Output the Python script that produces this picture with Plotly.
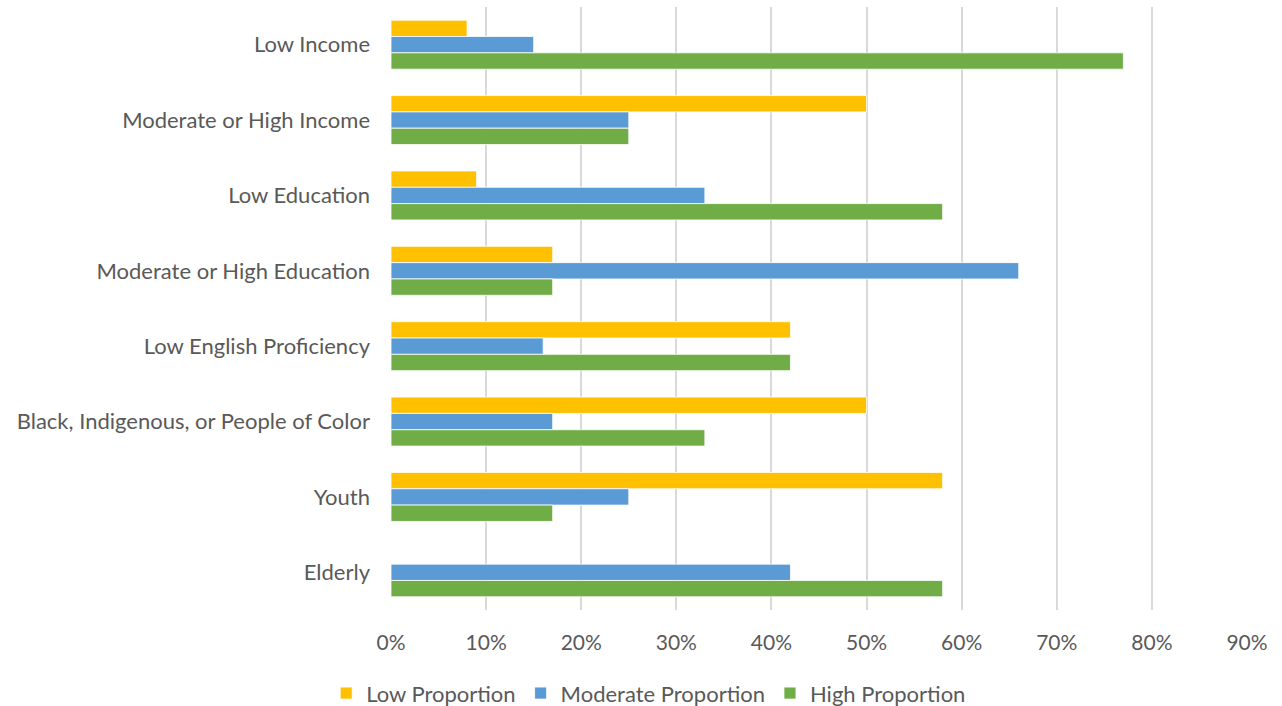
import plotly.graph_objects as go

categories = [
    "Low Income",
    "Moderate or High Income",
    "Low Education",
    "Moderate or High Education",
    "Low English Proficiency",
    "Black, Indigenous, or People of Color",
    "Youth",
    "Elderly",
]
low_prop = [0.08, 0.50, 0.09, 0.17, 0.42, 0.50, 0.58, 0.00]
moderate_prop = [0.15, 0.25, 0.33, 0.66, 0.16, 0.17, 0.25, 0.42]
high_prop = [0.77, 0.25, 0.58, 0.17, 0.42, 0.33, 0.17, 0.58]

series = [
    ("Low Proportion", low_prop, "#FFC000"),
    ("Moderate Proportion", moderate_prop, "#5B9BD5"),
    ("High Proportion", high_prop, "#70AD47"),
]

fig = go.Figure()
for name, vals, color in series:
    fig.add_trace(go.Bar(
        y=categories, x=vals, name=name, orientation="h",
        marker=dict(color=color, line=dict(color="white", width=0.8)),
    ))

font_family = "Lato, Open Sans, sans-serif"
fig.update_layout(
    width=1282, height=706,
    margin=dict(l=391, r=35, t=7, b=96, autoexpand=False),
    barmode="group", bargap=0.35, bargroupgap=0,
    plot_bgcolor="white", paper_bgcolor="white",
    font=dict(family=font_family, size=22, color="#595959"),
    xaxis=dict(
        range=[0, 0.9], dtick=0.1, tickformat=".0%",
        showgrid=True, gridcolor="#D9D9D9", gridwidth=1.5,
        zeroline=False, showline=False, ticks="",
        ticklabelstandoff=18,
        tickfont=dict(size=21, color="#595959"),
    ),
    yaxis=dict(
        autorange="reversed", showgrid=False, showline=False, ticks="",
        ticklabelstandoff=20, tickfont=dict(size=22, color="#595959"),
    ),
    legend=dict(
        orientation="h", xref="container", yref="container",
        x=0.506, xanchor="center", y=0.018, yanchor="middle",
        font=dict(size=22, color="#595959"), traceorder="normal",
        itemwidth=30,
    ),
)

fig.write_html("out.html")
